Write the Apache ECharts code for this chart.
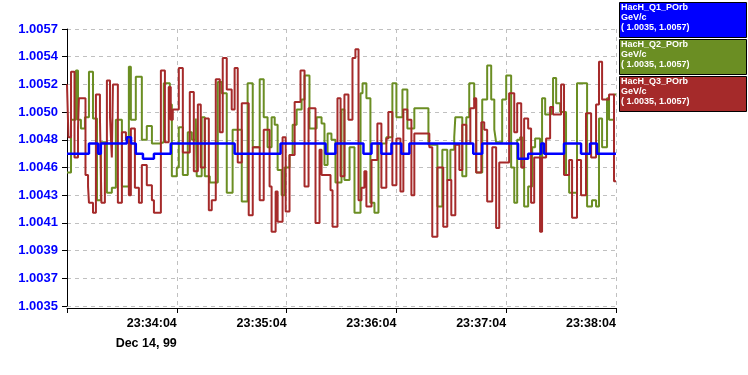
<!DOCTYPE html>
<html>
<head>
<meta charset="utf-8">
<script src="https://cdn.jsdelivr.net/npm/echarts@6/dist/echarts.min.js"></script>
<style>html,body{margin:0;padding:0;background:#fff;}#c{width:748px;height:375px;}</style>
</head>
<body>
<div id="c"></div>
<script>
// ---- data (time in seconds after 23:33:04, Dec 14 1999) ----
const seriesNames = ['HacH_Q1_POrb', 'HacH_Q2_POrb', 'HacH_Q3_POrb'];
const seriesUnit = 'GeV/c';
const seriesRange = '( 1.0035, 1.0057)';

const q1Times = [0, 12, 17, 18.5, 32.7, 35, 37.6, 41.5, 47.5, 56.7, 91.6, 116.7, 141.3, 146.7, 162, 166.4, 171.8, 177.3, 182.7, 187.1, 222, 226.9, 246.5, 252, 259.1, 260.7, 271.6, 280.9, 285.8, 289.6, 300];
const q1Values = [1.00471, 1.00479, 1.00471, 1.00479, 1.00484, 1.00479, 1.00471, 1.00467, 1.00471, 1.00479, 1.00471, 1.00479, 1.00471, 1.00479, 1.00471, 1.00479, 1.00471, 1.00479, 1.00471, 1.00479, 1.00471, 1.00479, 1.00467, 1.00471, 1.00479, 1.00471, 1.00479, 1.00471, 1.00479, 1.00471, 1.00471];

const q2Times = [0, 2.2, 4.9, 6.0, 7.6, 9.8, 12.0, 14.2, 16.4, 18.5, 21.8, 24.5, 26.7, 30.0, 33.8, 34.9, 37.6, 40.9, 43.6, 46.4, 50.7, 52.9, 56.2, 57.3, 60.0, 61.1, 63.3, 66.0, 68.2, 70.4, 70.9, 73.6, 75.3, 78.0, 82.4, 84.5, 87.3, 90.5, 95.5, 98.7, 101.5, 105.3, 107.5, 109.6, 111.8, 113.5, 115.1, 117.3, 118.9, 121.6, 123.3, 125.5, 128.2, 129.8, 132.5, 136.4, 139.1, 140.7, 142.4, 144.5, 146.7, 150.0, 151.6, 154.4, 157.1, 160.4, 161.5, 163.6, 165.8, 168.0, 170.2, 174.5, 177.8, 180.0, 183.3, 186.0, 189.8, 197.5, 202.4, 205.1, 207.8, 209.5, 211.6, 212.2, 216.0, 218.2, 219.8, 222.5, 223.6, 226.9, 229.6, 231.8, 233.5, 234.5, 237.8, 240.0, 242.7, 244.4, 246.0, 247.6, 248.7, 249.8, 252.0, 254.2, 255.8, 258.5, 259.6, 261.3, 264.5, 265.6, 267.3, 269.5, 272.7, 274.4, 278.7, 284.2, 286.9, 289.1, 290.7, 292.4, 295.1, 296.2, 298.9, 300];
const q2Values = [1.00456, 1.00498, 1.00537, 1.00498, 1.00491, 1.00500, 1.00536, 1.00499, 1.00434, 1.00480, 1.00440, 1.00444, 1.00498, 1.00445, 1.00540, 1.00498, 1.00532, 1.00482, 1.00493, 1.00479, 1.00480, 1.00527, 1.00510, 1.00453, 1.00460, 1.00492, 1.00454, 1.00488, 1.00482, 1.00499, 1.00453, 1.00500, 1.00453, 1.00448, 1.00528, 1.00519, 1.00440, 1.00490, 1.00433, 1.00527, 1.00476, 1.00530, 1.00500, 1.00476, 1.00500, 1.00494, 1.00458, 1.00438, 1.00460, 1.00470, 1.00494, 1.00506, 1.00514, 1.00533, 1.00491, 1.00500, 1.00495, 1.00462, 1.00487, 1.00482, 1.00448, 1.00506, 1.00450, 1.00476, 1.00424, 1.00519, 1.00527, 1.00515, 1.00432, 1.00424, 1.00479, 1.00484, 1.00527, 1.00500, 1.00522, 1.00491, 1.00507, 1.00478, 1.00429, 1.00474, 1.00450, 1.00474, 1.00484, 1.00500, 1.00453, 1.00500, 1.00527, 1.00514, 1.00456, 1.00514, 1.00541, 1.00514, 1.00490, 1.00480, 1.00514, 1.00533, 1.00460, 1.00432, 1.00482, 1.00484, 1.00460, 1.00429, 1.00445, 1.00476, 1.00483, 1.00468, 1.00515, 1.00502, 1.00508, 1.00531, 1.00511, 1.00504, 1.00454, 1.00440, 1.00527, 1.00429, 1.00434, 1.00429, 1.00499, 1.00476, 1.00515, 1.00498, 1.00518, 1.00518];

const q3Times = [0, 0.8, 2.2, 4.1, 6.0, 6.5, 10.1, 11.5, 12.0, 14.2, 15.8, 18.0, 18.8, 20.7, 21.8, 23.5, 24.5, 25.1, 27.8, 30.0, 32.2, 33.8, 34.9, 37.1, 39.3, 40.9, 43.6, 46.4, 47.5, 51.3, 53.5, 55.6, 56.7, 57.8, 61.1, 63.3, 67.1, 69.3, 71.5, 73.1, 75.3, 77.5, 79.1, 81.3, 83.5, 85.1, 87.3, 90.0, 91.6, 93.3, 95.5, 99.3, 101.5, 105.3, 107.5, 110.7, 111.8, 114.0, 115.1, 117.8, 119.5, 121.6, 124.4, 127.6, 129.8, 132.0, 135.8, 138.0, 139.1, 144.0, 145.1, 147.8, 149.5, 151.6, 153.8, 156.0, 157.6, 159.3, 160.9, 162.5, 163.6, 166.4, 169.6, 171.8, 174.5, 175.6, 177.8, 180.0, 182.2, 183.8, 186.0, 188.2, 189.8, 198.0, 199.6, 202.4, 205.6, 207.8, 210.0, 212.2, 214.4, 216.0, 218.2, 220.4, 222.5, 223.6, 226.4, 228.0, 229.6, 232.4, 234.5, 236.2, 241.6, 244.4, 246.0, 248.2, 249.8, 252.0, 253.6, 255.3, 258.5, 259.6, 261.8, 264.0, 265.6, 270.0, 271.6, 274.4, 276.0, 278.7, 280.9, 283.6, 286.4, 289.1, 290.7, 292.4, 296.2, 298.9, 300];
const q3Values = [1.00526, 1.00484, 1.00536, 1.00468, 1.00491, 1.00515, 1.00454, 1.00445, 1.00432, 1.00424, 1.00518, 1.00500, 1.00432, 1.00479, 1.00529, 1.00500, 1.00468, 1.00526, 1.00432, 1.00488, 1.00482, 1.00438, 1.00491, 1.00444, 1.00432, 1.00462, 1.00446, 1.00434, 1.00424, 1.00537, 1.00480, 1.00524, 1.00498, 1.00506, 1.00539, 1.00472, 1.00520, 1.00457, 1.00510, 1.00460, 1.00499, 1.00426, 1.00434, 1.00530, 1.00488, 1.00547, 1.00522, 1.00506, 1.00539, 1.00464, 1.00511, 1.00422, 1.00476, 1.00434, 1.00490, 1.00445, 1.00409, 1.00441, 1.00417, 1.00484, 1.00425, 1.00470, 1.00512, 1.00537, 1.00445, 1.00507, 1.00416, 1.00474, 1.00454, 1.00442, 1.00413, 1.00515, 1.00453, 1.00518, 1.00498, 1.00547, 1.00554, 1.00434, 1.00444, 1.00457, 1.00429, 1.00466, 1.00495, 1.00444, 1.00483, 1.00504, 1.00446, 1.00483, 1.00441, 1.00506, 1.00498, 1.00438, 1.00487, 1.00476, 1.00405, 1.00460, 1.00413, 1.00450, 1.00422, 1.00478, 1.00458, 1.00494, 1.00479, 1.00507, 1.00515, 1.00456, 1.00496, 1.00490, 1.00433, 1.00476, 1.00412, 1.00464, 1.00519, 1.00488, 1.00511, 1.00460, 1.00499, 1.00491, 1.00432, 1.00468, 1.00409, 1.00468, 1.00483, 1.00508, 1.00502, 1.00526, 1.00454, 1.00466, 1.00420, 1.00466, 1.00438, 1.00503, 1.00468, 1.00510, 1.00544, 1.00514, 1.00518, 1.00449, 1.00449];

// axis ticks
const yMin = 1.0035, yMax = 1.0057;
const yTickLabels = ['1.0035', '1.0037', '1.0039', '1.0041', '1.0043', '1.0046', '1.0048', '1.0050', '1.0052', '1.0054', '1.0057'];
const xTickLabels = ['', '23:34:04', '23:35:04', '23:36:04', '23:37:04', '23:38:04'];
const dateLabel = 'Dec 14, 99';

// ---- build ----
const yStep = (yMax - yMin) / (yTickLabels.length - 1);
const yTickValues = yTickLabels.map((_, i) => yMin + i * yStep);
function pairs(t, v) { return t.map((x, i) => [x, v[i]]); }
function yLabelFor(val) {
  let best = 0, bd = Infinity;
  yTickValues.forEach((tv, i) => { const d = Math.abs(tv - val); if (d < bd) { bd = d; best = i; } });
  return yTickLabels[best];
}

const chart = echarts.init(document.getElementById('c'), null, {renderer: 'canvas'});
const colors = ['#0000ff', '#6b8e23', '#a52a2a'];
const legendGraphics = [];
const boxTops = [2, 39, 76];
seriesNames.forEach((n, i) => {
  legendGraphics.push({
    type: 'rect', shape: {x: 619.5, y: boxTops[i] + 0.5, width: 127, height: 35},
    style: {fill: colors[i], stroke: '#000', lineWidth: 1}, z: 100
  });
  legendGraphics.push({
    type: 'text', x: 621, y: boxTops[i] + 1, z: 101,
    style: {text: n + '\n' + seriesUnit + '\n' + seriesRange, fill: '#fff',
      font: 'bold 9px "Liberation Sans", Arial, sans-serif', lineHeight: 10}
  });
});

chart.setOption({
  animation: false,
  backgroundColor: '#fff',
  grid: {left: 67, right: 132, top: 29, bottom: 69, containLabel: false},
  xAxis: {
    type: 'value', min: 0, max: 300, interval: 60, offset: 2,
    axisLine: {show: true, lineStyle: {color: '#000', width: 1}},
    axisTick: {show: true, length: 5, lineStyle: {color: '#000'}},
    splitLine: {show: true, lineStyle: {color: '#c0c0c0', type: [4, 4], width: 1}},
    axisLabel: {
      show: true, align: 'right', margin: 6, color: '#000',
      fontFamily: '"Liberation Sans", Arial, sans-serif', fontWeight: 'bold', fontSize: 12.5, lineHeight: 20,
      formatter: v => {
        const i = Math.round(v / 60);
        if (i === 1) return xTickLabels[i] + '\n' + dateLabel;
        return xTickLabels[i] || '';
      }
    }
  },
  yAxis: {
    type: 'value', min: yMin, max: yMax,
    axisLine: {show: true, lineStyle: {color: '#000', width: 1}},
    axisTick: {show: true, length: 5, lineStyle: {color: '#000'}, customValues: yTickValues},
    splitLine: {show: true, lineStyle: {color: '#c0c0c0', type: [4, 4], width: 1}},
    axisLabel: {
      show: true, margin: 9, color: '#0000ff', customValues: yTickValues,
      fontFamily: '"Liberation Sans", Arial, sans-serif', fontWeight: 'bold', fontSize: 13,
      formatter: v => yLabelFor(v)
    }
  },
  series: [
    {name: seriesNames[1], type: 'line', step: 'end', showSymbol: false, data: pairs(q2Times, q2Values),
      lineStyle: {color: colors[1], width: 2}, itemStyle: {color: colors[1]}},
    {name: seriesNames[2], type: 'line', step: 'end', showSymbol: false, data: pairs(q3Times, q3Values),
      lineStyle: {color: colors[2], width: 2}, itemStyle: {color: colors[2]}},
    {name: seriesNames[0], type: 'line', step: 'end', showSymbol: false, data: pairs(q1Times, q1Values),
      lineStyle: {color: colors[0], width: 2.5}, itemStyle: {color: colors[0]}}
  ],
  graphic: legendGraphics
});
</script>
</body>
</html>
